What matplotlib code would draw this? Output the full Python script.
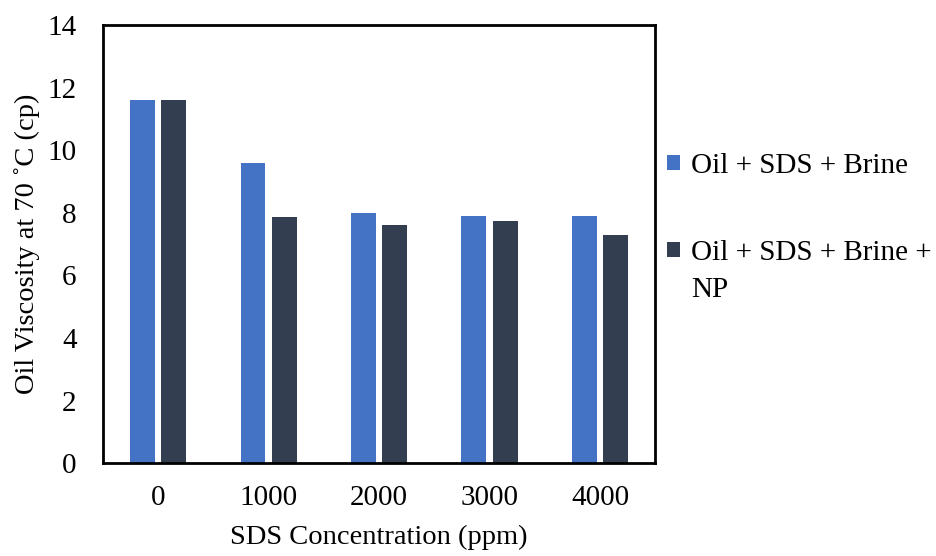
import matplotlib
matplotlib.use("Agg")
import matplotlib.pyplot as plt
import numpy as np

categories = ["0", "1000", "2000", "3000", "4000"]
series_names = ["Oil + SDS + Brine", "Oil + SDS + Brine +"]
brine = [11.6, 9.6, 8.0, 7.9, 7.9]
brine_np = [11.6, 7.85, 7.6, 7.75, 7.3]
yticks = [0, 2, 4, 6, 8, 10, 12, 14]

plt.rcParams['font.family'] = ['Liberation Serif', 'DejaVu Serif']

fig = plt.figure(figsize=(9.36, 5.56), dpi=100)
ax = fig.add_axes([0.110, 0.167, 0.590, 0.788])

x = np.arange(len(categories))
w = 0.225
off = 0.142
b1 = ax.bar(x - off, brine, width=w, color="#4472C4", label=series_names[0])
b2 = ax.bar(x + off, brine_np, width=w, color="#333F50", label=series_names[1])

ax.set_xlim(-0.5, len(categories) - 0.5)
ax.set_ylim(0, 14)
ax.set_yticks(yticks)
ax.set_xticks(x)
ax.set_xticklabels(categories)
ax.tick_params(axis='both', length=0, labelsize=21)
ax.tick_params(axis='x', pad=16)
ax.tick_params(axis='y', pad=19)
for s in ax.spines.values():
    s.set_linewidth(2)
    s.set_color("black")

ax.set_xlabel("SDS Concentration (ppm)", fontsize=20.5, labelpad=10)
ax.set_ylabel("Oil Viscosity at 70 \u02daC (cp)", fontsize=20.5, labelpad=5)

leg = fig.legend(handles=[b1, b2], labels=series_names, loc="upper left",
                 bbox_to_anchor=(0.713, 0.725), frameon=False, fontsize=21,
                 handlelength=0.42, handleheight=0.42, handletextpad=0.4,
                 labelspacing=2.1, borderaxespad=0, borderpad=0)
fig.text(0.738, 0.479, "NP", fontsize=21, va="center", ha="left")

fig.savefig("out.png", dpi=100)
